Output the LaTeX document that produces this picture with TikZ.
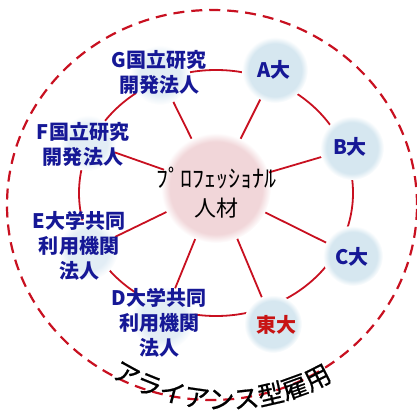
\documentclass[tikz,border=0pt]{standalone}
\usepackage{fontspec}
\usetikzlibrary{positioning,backgrounds,decorations.text}
\newfontfamily\jp{Noto Sans CJK JP}
\newfontfamily\jparc[FakeBold=0.6]{Noto Sans CJK JP}
\newcommand*{\arcfont}{\jparc\fontsize{26pt}{26pt}\selectfont}
\definecolor{ringred}{RGB}{200,16,32}
\definecolor{lblblue}{RGB}{22,24,150}
\definecolor{todred}{RGB}{200,20,20}
\definecolor{blobc}{RGB}{214,231,240}
\definecolor{blobl}{RGB}{226,237,245}
\definecolor{pinkc}{RGB}{241,214,217}
\pgfdeclareradialshading{blobshade}{\pgfpointorigin}{color(0bp)=(blobc); color(20bp)=(blobc); color(25bp)=(white); color(50bp)=(white)}
\pgfdeclareradialshading{fblobshade}{\pgfpointorigin}{color(0bp)=(blobl); color(17bp)=(blobl); color(25bp)=(white); color(50bp)=(white)}
\pgfdeclareradialshading{pinkshade}{\pgfpointorigin}{color(0bp)=(pinkc); color(21bp)=(pinkc); color(25bp)=(white); color(50bp)=(white)}
\tikzset{
  blob/.style={circle,inner sep=0pt,minimum size=#1,shade,shading=blobshade},
  fblob/.style={circle,inner sep=0pt,minimum size=#1,shade,shading=fblobshade},
  core/.style={circle,inner sep=0pt,minimum size=110pt,shade,shading=pinkshade},
  lbl/.style={font=\jp\bfseries\fontsize{20pt}{25pt}\selectfont,text=lblblue,align=center,inner sep=0pt},
  spoke/.style={ringred,line width=1.8pt,shorten <=-3pt,shorten >=-2pt},
  ring/.style={ringred,line width=1.8pt},
  outer/.style={ringred,line width=2.2pt,dash pattern=on 11pt off 7pt}
}

\begin{document}
\begin{tikzpicture}[x=1pt,y=1pt]
\useasboundingbox (0,0) rectangle (417,412);
% hub
\node[core] (hub) at (216,224) {};
\node[font=\jp\fontsize{24pt}{29pt}\selectfont,align=center,inner sep=0pt] (hubtxt) at (216,219)
  {ﾌﾟﾛﾌｪｯｼｮﾅﾙ\\{\fontsize{22pt}{29pt}\selectfont 人材}};
% partners
\node[blob=66pt] (a) at (275,342) {};
\node[blob=64pt] (b) at (352,264) {};
\node[blob=60pt] (c) at (353,156) {};
\node[blob=58pt] (t) at (273,88) {};
\node[fblob=64pt] (d) at (163,94) {};
\node[fblob=60pt] (e) at (88,162) {};
\node[fblob=56pt] (f) at (88,269) {};
\node[fblob=60pt] (g) at (160,337) {};
\begin{scope}[on background layer]
\draw[ring] (216,219) ellipse[x radius=137pt,y radius=123pt];
\foreach \s in {a,b,c,t,d,e,f,g}
  \draw[spoke] (hub) -- (\s);
\end{scope}
\node[lbl] (alab) at (274,342) {A大};
\node[lbl] (blab) at (350,265) {B大};
\node[lbl] (clab) at (352,155) {C大};
\node[lbl,text=todred] (tlab) at (276,87) {東大};
\node[lbl] (dlab) at (159,89) {D大学共同\\利用機関\\法人};
\node[lbl] (elab) at (79,166) {E大学共同\\利用機関\\法人};
\node[lbl] (flab) at (83,268) {F国立研究\\開発法人};
\node[lbl] (glab) at (159,340) {G国立研究\\開発法人};
% alliance
\draw[outer] (212,207) ellipse[x radius=205pt,y radius=195pt];
\path[decorate,decoration={text along path,text align=center,
  text={|\arcfont|アライアンス型雇用}}]
  (225,217) ++(234:214pt) arc[start angle=234,end angle=304,radius=214pt];
\end{tikzpicture}
\end{document}
